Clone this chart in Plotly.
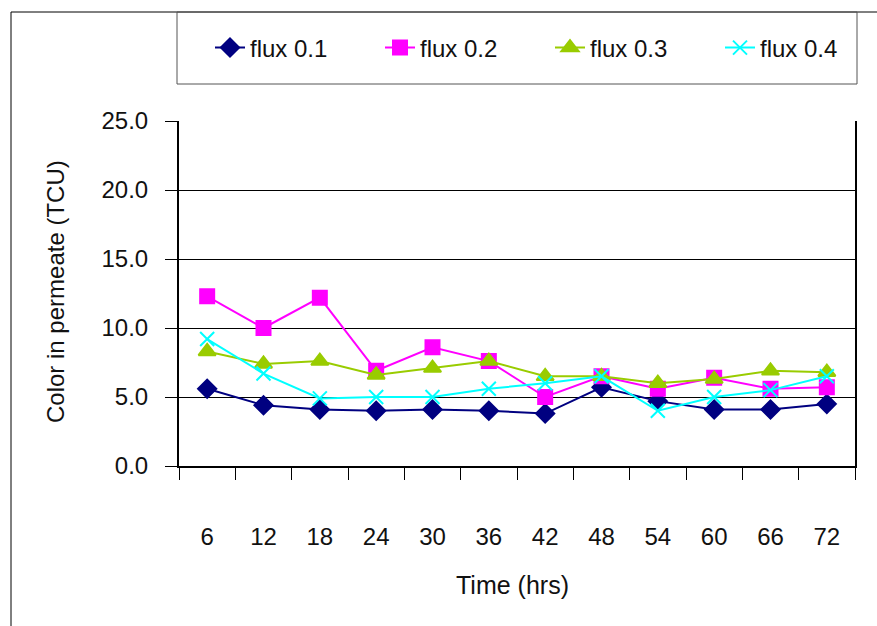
import plotly.graph_objects as go

# Sampling times (hours) and permeate colour readings (TCU) for each flux
time_hrs = ["6", "12", "18", "24", "30", "36", "42", "48", "54", "60", "66", "72"]
flux_01 = [5.6, 4.4, 4.1, 4.0, 4.1, 4.0, 3.8, 5.7, 4.7, 4.1, 4.1, 4.5]
flux_02 = [12.3, 10.0, 12.2, 6.9, 8.6, 7.6, 5.0, 6.5, 5.6, 6.4, 5.6, 5.7]
flux_03 = [8.3, 7.4, 7.6, 6.6, 7.1, 7.6, 6.5, 6.5, 6.0, 6.3, 6.9, 6.8]
flux_04 = [9.2, 6.7, 4.9, 5.0, 5.0, 5.6, 6.0, 6.5, 4.0, 5.0, 5.5, 6.5]

series_names = ["flux 0.1", "flux 0.2", "flux 0.3", "flux 0.4"]
series_values = [flux_01, flux_02, flux_03, flux_04]
series_colors = ["#000080", "#FF00FF", "#99CC00", "#00FFFF"]
series_symbols = ["diamond", "square", "triangle-up", "x-thin"]
series_sizes = [14, 14, 15, 14]

W, H = 877, 626
FONT = "Liberation Sans, Arial, sans-serif"


def px(x):
    return x / W


def py(y):
    return 1 - y / H


fig = go.Figure()
for name, vals, col, sym, sz in zip(series_names, series_values, series_colors,
                                    series_symbols, series_sizes):
    fig.add_trace(go.Scatter(
        x=time_hrs, y=vals, name=name, mode="lines+markers",
        line=dict(color=col, width=2),
        marker=dict(symbol=sym, size=sz, color=col,
                    line=dict(color=col, width=2)),
        cliponaxis=False,
    ))

shapes = [
    # outer chart border
    dict(type="rect", xref="paper", yref="paper",
         x0=px(11), x1=1.02, y0=-0.02, y1=py(12),
         line=dict(color="black", width=1), fillcolor="rgba(0,0,0,0)"),
    # legend box
    dict(type="rect", xref="paper", yref="paper",
         x0=px(177), x1=px(857), y0=py(84), y1=py(12),
         line=dict(color="#555555", width=1), fillcolor="rgba(0,0,0,0)"),
]

annotations = [
    dict(text="Color in permeate (TCU)", xref="paper", yref="paper",
         x=px(55), y=py(292), textangle=-90, showarrow=False,
         xanchor="center", yanchor="middle",
         font=dict(family=FONT, size=24, color="#111111")),
    dict(text="Time (hrs)", xref="paper", yref="paper",
         x=px(512), y=py(585), showarrow=False,
         xanchor="center", yanchor="middle",
         font=dict(family=FONT, size=25, color="#111111")),
]

fig.update_layout(
    width=W, height=H, autosize=False,
    margin=dict(l=0, r=0, t=0, b=0, autoexpand=False),
    paper_bgcolor="white", plot_bgcolor="white",
    font=dict(family=FONT, size=24, color="#111111"),
    showlegend=True,
    legend=dict(
        orientation="h", x=px(210), y=py(48), xanchor="left", yanchor="middle",
        entrywidth=125, entrywidthmode="pixels",
        font=dict(family=FONT, size=24, color="#111111"),
        bgcolor="rgba(0,0,0,0)", borderwidth=0,
    ),
    xaxis=dict(
        domain=[px(179), px(855)],
        type="category", automargin=False,
        range=[-0.5, len(time_hrs) - 0.5],
        showgrid=False, zeroline=False,
        showline=True, linecolor="black", linewidth=2, mirror=False,
        ticks="outside", ticklen=12, tickcolor="black", tickwidth=1,
        tickson="boundaries", ticklabelstandoff=48,
        tickfont=dict(family=FONT, size=24, color="#111111"),
    ),
    yaxis=dict(
        domain=[py(466), py(121)],
        range=[0, 25], dtick=5, tickformat=".1f", automargin=False,
        showgrid=True, gridcolor="black", gridwidth=1,
        zeroline=False,
        showline=True, linecolor="black", linewidth=2, mirror=True,
        ticks="outside", ticklen=12, tickcolor="black", tickwidth=1,
        ticklabelstandoff=12,
        tickfont=dict(family=FONT, size=24, color="#111111"),
    ),
    shapes=shapes,
    annotations=annotations,
)

fig.write_html("out.html")
